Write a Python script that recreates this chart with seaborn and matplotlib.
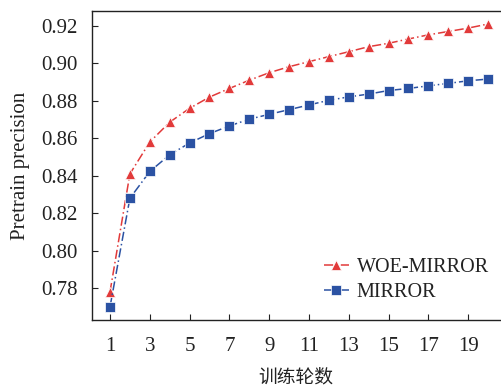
import matplotlib
matplotlib.use("Agg")
import matplotlib.pyplot as plt
import seaborn as sns
import pandas as pd

epochs = list(range(1, 21))
woe_mirror = [0.778, 0.841, 0.858, 0.8686, 0.876, 0.882, 0.8866, 0.891, 0.895, 0.8982,
              0.9009, 0.9036, 0.9062, 0.9089, 0.9107, 0.913, 0.9152, 0.917, 0.9188, 0.921]
mirror = [0.770, 0.828, 0.8423, 0.8512, 0.8575, 0.8625, 0.8666, 0.8702, 0.8728, 0.8753,
          0.8778, 0.8803, 0.8821, 0.8836, 0.8855, 0.8866, 0.888, 0.8893, 0.8907, 0.8916]
series_names = ["WOE-MIRROR", "MIRROR"]
xticks = [1, 3, 5, 7, 9, 11, 13, 15, 17, 19]
yticks = [0.78, 0.80, 0.82, 0.84, 0.86, 0.88, 0.90, 0.92]

df = pd.DataFrame({
    "epoch": epochs * 2,
    "value": woe_mirror + mirror,
    "model": [series_names[0]] * len(epochs) + [series_names[1]] * len(epochs),
})

sns.set_style("ticks")
plt.rcParams["font.family"] = ["Liberation Serif", "Noto Sans CJK SC"]
plt.rcParams["xtick.direction"] = "in"
plt.rcParams["ytick.direction"] = "in"

fig = plt.figure(figsize=(5.01, 3.88), dpi=100)
ax = fig.add_axes([0.183, 0.175, 0.815, 0.797])

palette = {"WOE-MIRROR": "#e23a3a", "MIRROR": "#2b52a3"}
sns.lineplot(data=df, x="epoch", y="value", hue="model", style="model",
             markers={"WOE-MIRROR": "^", "MIRROR": "s"},
             dashes={"WOE-MIRROR": (6, 2, 1, 2), "MIRROR": (6, 2, 1, 2)},
             palette=palette, ax=ax, linewidth=1.1, markersize=7,
             markeredgewidth=0.5)

ax.set_xlim(0.08, 20.6)
ax.set_ylim(0.763, 0.928)
ax.set_xticks(xticks)
ax.set_yticks(yticks)
ax.set_yticklabels([f"{v:.2f}" for v in yticks])
ax.tick_params(labelsize=15, length=4, width=0.8, colors="#222222")
ax.tick_params(axis="x", pad=12)
ax.tick_params(axis="y", pad=10)
for s in ax.spines.values():
    s.set_linewidth(1.0)
    s.set_color("#222222")
ax.spines["right"].set_visible(False)

ax.set_xlabel("训练轮数", fontsize=13.5, family=["Noto Sans CJK SC"], labelpad=8,
              color="#222222")
ax.set_ylabel("Pretrain precision", fontsize=15, labelpad=8, color="#222222")

leg = ax.legend(loc="lower right", frameon=False, fontsize=14.5,
                bbox_to_anchor=(1.017, 0.0), handlelength=1.2, handletextpad=0.4,
                labelspacing=0.3)
for t in leg.get_texts():
    t.set_color("#222222")

fig.savefig("out.png", dpi=100)
